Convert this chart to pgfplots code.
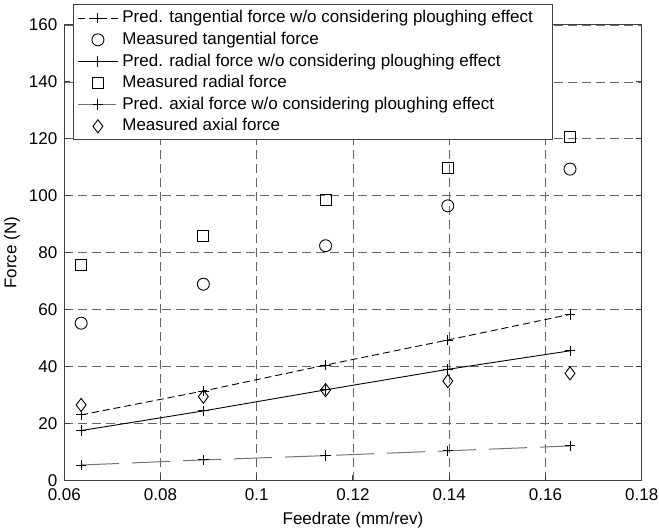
\documentclass[border=0pt]{standalone}
\usepackage{fontspec}
\setmainfont{Liberation Sans}
\usepackage{pgfplots}
\pgfplotsset{compat=1.18}
\begin{document}
\begin{tikzpicture}
\useasboundingbox (-32.15pt,-25.15pt) rectangle (297.35pt,240.35pt);
\begin{axis}[
  scale only axis, width=288.7pt, height=227.85pt,
  at={(0,0)}, anchor=south west,
  xmin=0.06, xmax=0.18, ymin=0, ymax=160,
  xtick={0.06,0.08,0.1,0.12,0.14,0.16,0.18},
  xticklabels={0.06,0.08,0.1,0.12,0.14,0.16,0.18},
  ytick={0,20,40,60,80,100,120,140,160},
  scaled x ticks=false,
  tick align=inside, tick pos=both, major tick length=3pt,
  tick style={black!75, line width=0.5pt},
  grid=major,
  major grid style={dash pattern=on 4.5pt off 2.5pt, black!60, line width=0.45pt},
  axis line style={black!75, line width=0.5pt},
  ticklabel style={font=\fontsize{8.5}{10}\selectfont},
  xticklabel style={yshift=-0.5pt},
  /pgf/number format/assume math mode=true,
  xlabel={Feedrate (mm/rev)}, ylabel={Force (N)},
  label style={font=\fontsize{8.5}{10}\selectfont},
  xlabel style={at={(axis description cs:0.5,-0.0862)}, anchor=center},
  ylabel style={at={(axis description cs:-0.0906,0.5)}, anchor=center},
  legend style={at={(0.0151,1.046)}, anchor=north west,
    font=\fontsize{8.5}{10}\selectfont, draw=black!75, line width=0.5pt,
    row sep=-0.85pt, inner xsep=2pt, inner ysep=1pt},
  legend cell align=left,
  legend image code/.code={
    \draw[mark repeat=2, mark phase=2, #1] plot coordinates {(0cm,0cm) (0.35cm,0cm) (0.7cm,0cm)};
  },
]
\addplot[black, line width=0.45pt, dash pattern=on 3.5pt off 2pt, mark=+, mark size=2.6pt, mark options={solid}]
  coordinates {(0.0635,23.1) (0.0889,31.5) (0.1143,40.6) (0.1397,49.4) (0.1651,58.4)};
\addlegendentry{Pred. tangential force w/o considering ploughing effect\kern6pt}
\addplot[black, only marks, mark=o, mark size=3pt, line width=0.45pt]
  coordinates {(0.0635,55.3) (0.0889,69.0) (0.1143,82.5) (0.1397,96.5) (0.1651,109.4)};
\addlegendentry{Measured tangential force}
\addplot[black, line width=0.45pt, mark=+, mark size=2.6pt]
  coordinates {(0.0635,17.6) (0.0889,24.5) (0.1143,31.9) (0.1397,39.1) (0.1651,45.6)};
\addlegendentry{Pred. radial force w/o considering ploughing effect}
\addplot[black, only marks, mark=square, mark size=2.75pt, line width=0.45pt]
  coordinates {(0.0635,75.7) (0.0889,86.0) (0.1143,98.5) (0.1397,109.9) (0.1651,120.6)};
\addlegendentry{Measured radial force}
\addplot[black!55, line width=0.5pt, dash pattern=on 19pt off 6.5pt, mark=+, mark size=2.6pt, mark options={solid, black}]
  coordinates {(0.0635,5.5) (0.0889,7.3) (0.1143,8.8) (0.1397,10.5) (0.1651,12.2)};
\addlegendentry{Pred. axial force w/o considering ploughing effect}
\addplot[black, only marks, mark=diamond, mark size=3.3pt, line width=0.45pt]
  coordinates {(0.0635,26.6) (0.0889,29.5) (0.1143,31.8) (0.1397,35.0) (0.1651,37.7)};
\addlegendentry{Measured axial force}
\end{axis}
\end{tikzpicture}
\end{document}
